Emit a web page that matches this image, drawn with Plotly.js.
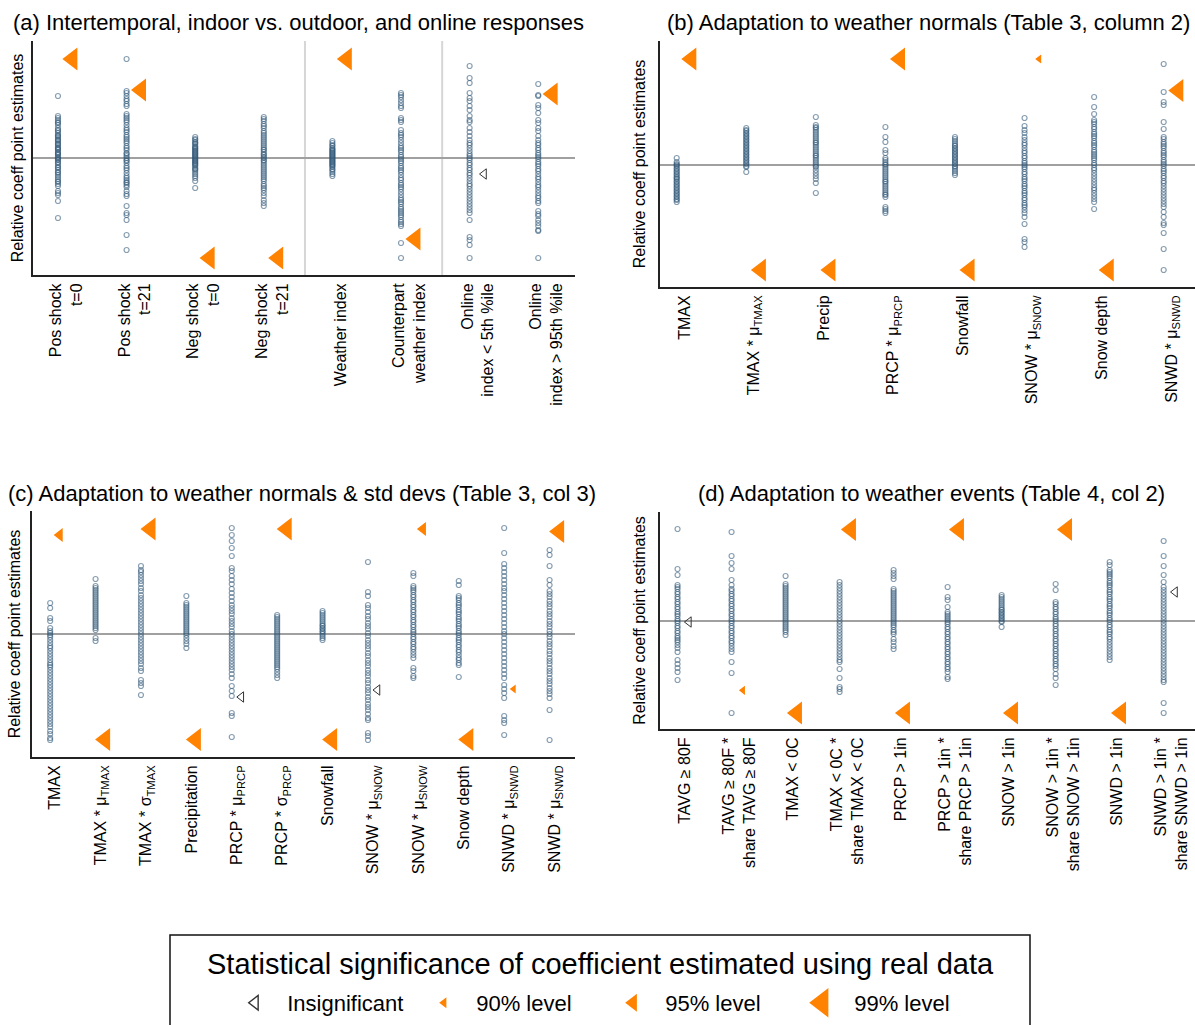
<!DOCTYPE html>
<html>
<head>
<meta charset="utf-8">
<script src="https://cdn.plot.ly/plotly-3.0.1.min.js"></script>
<style>
html,body{margin:0;padding:0;background:#fff;}
#chart{width:1195px;height:1025px;}
</style>
</head>
<body>
<div id="chart"></div>
<script>
// ---------- Panel (a): Intertemporal, indoor vs. outdoor, and online responses ----------
const aLabels = ["Pos shock<br>t=0", "Pos shock<br>t=21", "Neg shock<br>t=0", "Neg shock<br>t=21",
  "Weather index", "Counterpart<br>weather index", "Online<br>index &lt; 5th %ile", "Online<br>index &gt; 95th %ile"];
const aPlacebo = [
  [62, 42, 40, 38, 36, 35, 33, 30, 28, 27, 25, 23, 22, 21, 19, 18, 17, 15, 14, 13, 11, 10, 9, 8, 6, 5, 4, 3, 1, 0, -1, -2, -4, -5, -7, -9, -10, -12, -14, -15, -17, -19, -21, -23, -24, -26, -28, -33, -35, -37, -43, -60],
  [99, 67, 65, 62, 59, 57, 54, 52, 44, 42, 40, 38, 36, 33, 30, 28, 26, 23, 21, 19, 17, 15, 12, 10, 8, 5, 4, 2, 0, -2, -3, -5, -8, -10, -12, -15, -18, -20, -22, -24, -25, -27, -29, -33, -36, -38, -48, -55, -57, -62, -77, -92],
  [21, 19, 18, 16, 15, 14, 12, 11, 10, 9, 8, 7, 6, 5, 4, 3, 2, 1, 0, -1, -2, -3, -4, -5, -6, -7, -8, -10, -11, -12, -14, -16, -18, -20, -23, -30],
  [41, 39, 37, 34, 32, 30, 27, 25, 23, 21, 19, 17, 15, 13, 11, 9, 8, 6, 4, 3, 1, 0, -2, -3, -5, -7, -9, -11, -13, -15, -17, -19, -21, -23, -26, -28, -30, -32, -35, -38, -42, -45, -48],
  [17, 15, 13, 12, 10, 9, 8, 7, 6, 5, 4, 3, 2, 1, 0, -1, -2, -3, -4, -5, -6, -7, -8, -9, -11, -12, -14, -16, -18],
  [65, 63, 61, 58, 55, 52, 50, 40, 38, 36, 28, 25, 23, 21, 18, 15, 12, 10, 8, 6, 3, 1, -1, -3, -5, -8, -10, -12, -14, -17, -20, -22, -25, -27, -29, -31, -34, -37, -40, -42, -44, -46, -49, -51, -53, -55, -57, -59, -62, -64, -66, -68, -85, -100],
  [92, 80, 75, 65, 60, 57, 52, 48, 42, 38, 36, 30, 26, 22, 18, 15, 13, 10, 7, 4, 2, 0, -2, -5, -7, -10, -12, -15, -17, -20, -23, -26, -28, -31, -34, -37, -40, -43, -46, -49, -52, -55, -62, -79, -82, -87, -100],
  [74, 63, 62, 53, 50, 45, 38, 35, 30, 27, 22, 18, 15, 13, 10, 8, 5, 3, 1, -1, -4, -6, -8, -11, -13, -16, -19, -21, -24, -27, -29, -32, -35, -38, -40, -43, -45, -53, -56, -58, -62, -65, -68, -72, -73, -100]
];
const aReal = [99, 68, -100, -100, 99, -81, -16, 64];
const aSig  = [3, 3, 3, 3, 3, 3, 0, 3];   // 0 = insignificant, 1 = 90%, 2 = 95%, 3 = 99%

// ---------- Panel (b): Adaptation to weather normals (Table 3, column 2) ----------
const bLabels = ["TMAX", "TMAX * μ<sub>TMAX</sub>", "Precip", "PRCP * μ<sub>PRCP</sub>",
  "Snowfall", "SNOW * μ<sub>SNOW</sub>", "Snow depth", "SNWD * μ<sub>SNWD</sub>"];
const bPlacebo = [
  [7, 3, 1, 0, -1, -3, -4, -6, -7, -9, -10, -12, -13, -14, -16, -17, -19, -20, -22, -23, -25, -26, -28, -29, -31, -32, -34, -35, -37],
  [37, 35, 34, 32, 31, 29, 28, 26, 25, 23, 22, 20, 19, 17, 16, 14, 13, 11, 10, 8, 7, 5, 4, 2, 1, -1, -2, -7],
  [48, 40, 38, 37, 35, 33, 31, 29, 27, 25, 23, 22, 20, 18, 16, 14, 12, 10, 9, 7, 5, 3, 1, -1, -2, -5, -8, -11, -14, -18, -28],
  [38, 28, 23, 15, 12, 7, 5, 3, 1, 0, -2, -4, -6, -8, -10, -12, -14, -16, -17, -19, -21, -23, -25, -27, -29, -30, -32, -42, -44, -46, -48],
  [28, 26, 24, 22, 20, 19, 17, 16, 14, 13, 11, 10, 8, 7, 5, 4, 2, 1, -1, -2, -4, -6, -8, -10],
  [47, 39, 35, 32, 28, 25, 22, 20, 17, 14, 12, 9, 7, 4, 2, 0, -2, -4, -7, -9, -12, -14, -16, -19, -21, -23, -26, -28, -30, -33, -35, -38, -40, -42, -45, -48, -52, -59, -74, -77, -82],
  [68, 58, 51, 45, 43, 41, 38, 36, 33, 31, 29, 27, 24, 22, 20, 18, 15, 13, 11, 9, 7, 5, 2, 0, -3, -5, -8, -11, -14, -17, -20, -23, -25, -28, -31, -34, -37, -44],
  [101, 73, 63, 60, 43, 36, 28, 26, 23, 21, 19, 17, 14, 12, 10, 8, 5, 3, 1, -1, -4, -6, -8, -11, -13, -16, -18, -21, -24, -27, -30, -33, -36, -39, -42, -47, -52, -58, -60, -68, -84, -105]
];
const bReal = [106, -105, -105, 106, -105, 106, -105, 74.5];
const bSig  = [3, 3, 3, 3, 3, 1, 3, 3];

// ---------- Panel (c): Adaptation to weather normals & std devs (Table 3, col 3) ----------
const cLabels = ["TMAX", "TMAX * μ<sub>TMAX</sub>", "TMAX * σ<sub>TMAX</sub>", "Precipitation",
  "PRCP * μ<sub>PRCP</sub>", "PRCP * σ<sub>PRCP</sub>", "Snowfall", "SNOW * μ<sub>SNOW</sub>",
  "SNOW * μ<sub>SNOW</sub>", "Snow depth", "SNWD * μ<sub>SNWD</sub>", "SNWD * μ<sub>SNWD</sub>"];
const cPlacebo = [
  [31, 26, 16, 13, 6, 3, 1, -1, -3, -6, -9, -12, -14, -17, -20, -23, -26, -29, -31, -33, -36, -39, -42, -45, -48, -51, -54, -57, -60, -63, -66, -69, -72, -75, -78, -81, -84, -87, -90, -93, -97, -100, -104, -106],
  [55, 48, 46, 44, 42, 40, 38, 36, 34, 32, 30, 28, 26, 24, 22, 20, 18, 16, 14, 12, 10, 8, 6, 4, -4, -7],
  [68, 64, 62, 59, 56, 53, 50, 46, 43, 39, 36, 33, 30, 27, 24, 21, 18, 15, 12, 9, 6, 3, 0, -3, -6, -9, -12, -15, -18, -21, -24, -27, -30, -34, -37, -46, -49, -52, -61],
  [38, 31, 29, 27, 25, 23, 21, 19, 17, 15, 13, 11, 9, 7, 5, 3, 1, -1, -4, -7, -10, -14],
  [106, 99, 93, 86, 78, 66, 63, 58, 54, 50, 45, 41, 37, 33, 29, 26, 23, 20, 16, 13, 10, 7, 3, 0, -3, -6, -9, -12, -15, -18, -21, -24, -27, -30, -33, -36, -40, -44, -52, -57, -62, -79, -82, -103],
  [19, 17, 15, 13, 11, 9, 7, 5, 3, 1, -1, -3, -5, -7, -9, -11, -13, -15, -17, -19, -21, -23, -25, -27, -29, -31, -33, -35, -38, -41, -44],
  [23, 21, 19, 17, 15, 13, 11, 9, 8, 6, 5, 3, 2, 0, -2, -4, -6],
  [72, 42, 38, 29, 26, 22, 18, 15, 11, 8, 5, 1, -2, -6, -9, -12, -15, -19, -22, -26, -29, -32, -36, -39, -42, -46, -49, -53, -56, -59, -63, -66, -70, -73, -76, -80, -84, -86, -99, -102, -106],
  [61, 58, 48, 46, 44, 42, 39, 37, 34, 32, 29, 27, 24, 22, 19, 17, 14, 12, 9, 7, 4, 2, 0, -3, -5, -8, -10, -13, -15, -18, -21, -24, -34, -37, -42, -44],
  [53, 49, 38, 36, 34, 31, 29, 27, 24, 22, 20, 17, 15, 13, 10, 8, 6, 3, 1, -1, -4, -6, -8, -11, -13, -16, -18, -21, -24, -26, -29, -31, -43],
  [106, 81, 70, 66, 62, 58, 54, 50, 46, 43, 39, 35, 31, 27, 23, 19, 15, 11, 7, 3, 0, -4, -8, -12, -16, -20, -24, -28, -32, -36, -40, -44, -51, -55, -59, -64, -82, -86, -89, -101],
  [84, 79, 68, 54, 49, 43, 40, 37, 33, 30, 27, 23, 20, 17, 13, 10, 7, 3, 0, -3, -7, -10, -13, -17, -20, -24, -27, -30, -34, -37, -40, -44, -47, -50, -54, -57, -60, -64, -76, -106]
];
const cReal = [99, -105.5, 105, -105.5, -63, 105, -105.5, -56, 105, -105.5, -55, 102.5];
const cSig  = [2, 3, 3, 3, 0, 3, 3, 0, 2, 3, 1, 3];

// ---------- Panel (d): Adaptation to weather events (Table 4, col 2) ----------
const dLabels = ["TAVG ≥ 80F", "TAVG ≥ 80F *<br>share TAVG ≥ 80F", "TMAX &lt; 0C", "TMAX &lt; 0C *<br>share TMAX &lt; 0C",
  "PRCP &gt; 1in", "PRCP &gt; 1in *<br>share PRCP &gt; 1in", "SNOW &gt; 1in", "SNOW &gt; 1in *<br>share SNOW &gt; 1in",
  "SNWD &gt; 1in", "SNWD &gt; 1in *<br>share SNWD &gt; 1in"];
const dPlacebo = [
  [92, 52, 46, 36, 34, 32, 29, 27, 24, 22, 19, 17, 14, 12, 9, 7, 5, 2, 0, -2, -5, -7, -10, -12, -15, -17, -19, -21, -24, -27, -31, -39, -43, -47, -51, -59],
  [89, 65, 58, 52, 41, 36, 32, 30, 27, 25, 22, 20, 17, 15, 12, 10, 7, 5, 2, 0, -2, -5, -7, -10, -12, -15, -17, -20, -22, -25, -28, -31, -41, -52, -92],
  [45, 37, 35, 33, 31, 29, 27, 25, 23, 21, 19, 17, 15, 13, 11, 9, 7, 5, 3, 1, -1, -3, -5, -7, -9, -11, -14],
  [39, 36, 33, 30, 27, 24, 21, 18, 15, 12, 9, 6, 3, 0, -3, -6, -9, -12, -15, -18, -21, -24, -27, -30, -33, -36, -39, -41, -48, -57, -66, -68, -71],
  [51, 48, 45, 42, 32, 30, 28, 26, 24, 22, 20, 18, 16, 14, 12, 10, 8, 6, 4, 2, 0, -2, -4, -6, -9, -11, -13, -18, -21, -25, -28],
  [34, 24, 21, 14, 9, 7, 5, 3, 1, -1, -3, -6, -8, -11, -13, -16, -18, -21, -23, -26, -28, -31, -33, -36, -38, -41, -43, -46, -48, -51, -56, -58],
  [26, 24, 22, 20, 18, 16, 14, 12, 11, 9, 8, 6, 5, 3, 2, 0, -1, -6],
  [37, 31, 19, 17, 14, 12, 9, 7, 4, 2, 0, -3, -5, -8, -10, -13, -15, -18, -20, -23, -25, -28, -30, -33, -35, -38, -40, -43, -45, -48, -53, -57, -64],
  [59, 56, 51, 49, 47, 45, 43, 40, 38, 36, 34, 31, 29, 27, 24, 22, 20, 17, 15, 13, 10, 8, 6, 3, 1, -1, -4, -6, -9, -11, -13, -16, -18, -21, -24, -27, -30, -33, -36, -39],
  [80, 65, 55, 46, 39, 34, 31, 28, 25, 22, 19, 16, 13, 10, 7, 4, 1, -2, -5, -8, -11, -14, -17, -20, -23, -26, -29, -32, -35, -38, -41, -44, -47, -50, -53, -56, -59, -61, -82, -92]
];
const dReal = [-1, -69.3, -92, 91.5, -92, 91.5, -92, 91.5, -92, 29];
const dSig  = [0, 1, 3, 3, 3, 3, 3, 3, 3, 0];

const sigNames = ["Insignificant", "90% level", "95% level", "99% level"];

// ---------- layout / style ----------
const W = 1195, H = 1025;
const FONT = "Liberation Sans, Arial, Helvetica, sans-serif";
const ORANGE = "#FF8200";
const PLACEBO = "rgba(48,88,120,0.58)";
const EST_OFFSET = 0.21;   // horizontal shift of the real-data marker from its column
const NBSP2 = "\u00a0\u00a0";
const sigStyle = [
  {symbol: "triangle-left-open", size: 9, color: "#333333", line: {width: 1, color: "#333333"}, legendScale: 1.4},
  {symbol: "triangle-left", size: 8, color: ORANGE, line: {width: 0}, legendScale: 1.2},
  {symbol: "triangle-left", size: 12, color: ORANGE, line: {width: 0}, legendScale: 1.3},
  {symbol: "triangle-left", size: 20, color: ORANGE, line: {width: 0}, legendScale: 1.6}
];

const panels = [
  {title: "(a) Intertemporal, indoor vs. outdoor, and online responses", tx: 299, ty: 22,
   labels: aLabels, placebo: aPlacebo, real: aReal, sig: aSig, labShift: 0.12, standoff: 3,
   px: [33, 575], py: [41, 275], xr: [0.636, 8.536], yr: [-117, 117], breaks: [4.6, 6.6]},
  {title: "(b) Adaptation to weather normals (Table 3, column 2)", tx: 928, ty: 22,
   labels: bLabels, placebo: bPlacebo, real: bReal, sig: bSig, labShift: 0.11, standoff: 8,
   px: [660, 1195], py: [41, 287], xr: [0.76, 8.45], yr: [-122, 124], breaks: []},
  {title: "(c) Adaptation to weather normals &amp; std devs (Table 3, col 3)", tx: 302, ty: 493,
   labels: cLabels, placebo: cPlacebo, real: cReal, sig: cSig, labShift: 0.11, standoff: 5,
   px: [32, 575], py: [511, 757], xr: [0.6, 12.56], yr: [-123, 123], breaks: []},
  {title: "(d) Adaptation to weather events (Table 4, col 2)", tx: 931, ty: 493,
   labels: dLabels, placebo: dPlacebo, real: dReal, sig: dSig, labShift: 0.14, standoff: 8,
   px: [660, 1195], py: [512, 729], xr: [0.675, 10.58], yr: [-108, 109], breaks: []}
];

const traces = [];
const layout = {
  width: W, height: H,
  margin: {l: 0, r: 0, t: 0, b: 0},
  paper_bgcolor: "#fff", plot_bgcolor: "#fff",
  font: {family: FONT, color: "#000", size: 16},
  showlegend: true,
  legend: {orientation: "h", x: 235 / W, xanchor: "left", y: 1 - 1003 / H, yanchor: "middle",
           font: {size: 22, family: FONT, color: "#000"}, bgcolor: "rgba(0,0,0,0)", borderwidth: 0,
           entrywidth: 144, entrywidthmode: "pixels", itemsizing: "trace", traceorder: "normal"},
  shapes: [
    {type: "rect", xref: "paper", yref: "paper", x0: 170 / W, x1: 1030 / W, y0: 1 - 935 / H, y1: -0.02,
     line: {color: "#111", width: 1.5}, fillcolor: "rgba(0,0,0,0)"}
  ],
  annotations: [
    {text: "Statistical significance of coefficient estimated using real data", xref: "paper", yref: "paper",
     x: 600 / W, y: 1 - 964 / H, xanchor: "center", yanchor: "middle", showarrow: false,
     font: {size: 29, family: FONT, color: "#000"}}
  ]
};
const seen = {};

panels.forEach((p, k) => {
  const n = k + 1;
  const xa = n === 1 ? "xaxis" : "xaxis" + n;
  const ya = n === 1 ? "yaxis" : "yaxis" + n;
  const xref = n === 1 ? "x" : "x" + n;
  const yref = n === 1 ? "y" : "y" + n;
  const cats = p.labels.map((_, i) => i + 1);

  layout[xa] = {
    domain: [p.px[0] / W, p.px[1] / W], anchor: yref, range: p.xr,
    tickmode: "array", tickvals: cats.map(c => c + p.labShift), ticktext: p.labels, tickangle: -90,
    ticks: "", showgrid: false, zeroline: false, showline: true, linecolor: "#222", linewidth: 2,
    tickfont: {size: 16, family: FONT, color: "#000"}, automargin: false, fixedrange: true
  };
  layout[ya] = {
    domain: [1 - p.py[1] / H, 1 - p.py[0] / H], anchor: xref, range: p.yr,
    showticklabels: false, ticks: "", showgrid: false,
    zeroline: true, zerolinecolor: "#a0a0a0", zerolinewidth: 2.2,
    showline: true, linecolor: "#222", linewidth: 2, automargin: false, fixedrange: true,
    title: {text: "Relative coeff point estimates", font: {size: 16, family: FONT, color: "#000"}, standoff: p.standoff}
  };

  p.breaks.forEach(b => layout.shapes.push({
    type: "line", xref: xref, yref: yref + " domain", x0: b, x1: b, y0: 0, y1: 1,
    line: {color: "#d6d6d6", width: 2}, layer: "below"
  }));

  layout.annotations.push({text: p.title, xref: "paper", yref: "paper", x: p.tx / W, y: 1 - p.ty / H,
    xanchor: "center", yanchor: "middle", showarrow: false, font: {size: 22, family: FONT, color: "#000"}});

  // placebo estimates
  const px = [], py = [];
  p.placebo.forEach((vals, i) => vals.forEach(v => { px.push(i + 1); py.push(v); }));
  traces.push({type: "scatter", mode: "markers", x: px, y: py, xaxis: xref, yaxis: yref,
    showlegend: false, hoverinfo: "skip",
    marker: {symbol: "circle-open", size: 5, color: PLACEBO, line: {width: 1.2, color: PLACEBO}}});

  // real-data estimates by significance level
  for (let L = 0; L < 4; L++) {
    const ex = [], ey = [];
    p.real.forEach((v, i) => { if (p.sig[i] === L) { ex.push(i + 1 + EST_OFFSET); ey.push(v); } });
    if (!ex.length) continue;
    const st = sigStyle[L];
    traces.push({type: "scatter", mode: "markers", x: ex, y: ey, xaxis: xref, yaxis: yref,
      name: NBSP2 + sigNames[L], legendgroup: "sig" + L, legendrank: L + 1, showlegend: !seen[L],
      marker: {symbol: st.symbol, size: st.size, color: st.color, line: st.line}});
    seen[L] = true;
  }
});

Plotly.newPlot("chart", traces, layout, {staticPlot: true, displayModeBar: false}).then(gd => {
  // enlarge legend glyphs (Plotly caps legend marker size)
  const items = gd.querySelectorAll(".legend .traces");
  items.forEach(item => {
    const txt = item.querySelector("text.legendtext");
    if (!txt) return;
    const name = txt.textContent.replace(/\u00a0/g, "").trim();
    const L = sigNames.indexOf(name);
    if (L < 0) return;
    item.querySelectorAll(".legendpoints path.scatterpts").forEach(path => {
      const t = path.getAttribute("transform") || "";
      path.setAttribute("transform", t + " scale(" + sigStyle[L].legendScale + ")");
    });
  });
});
</script>
</body>
</html>
